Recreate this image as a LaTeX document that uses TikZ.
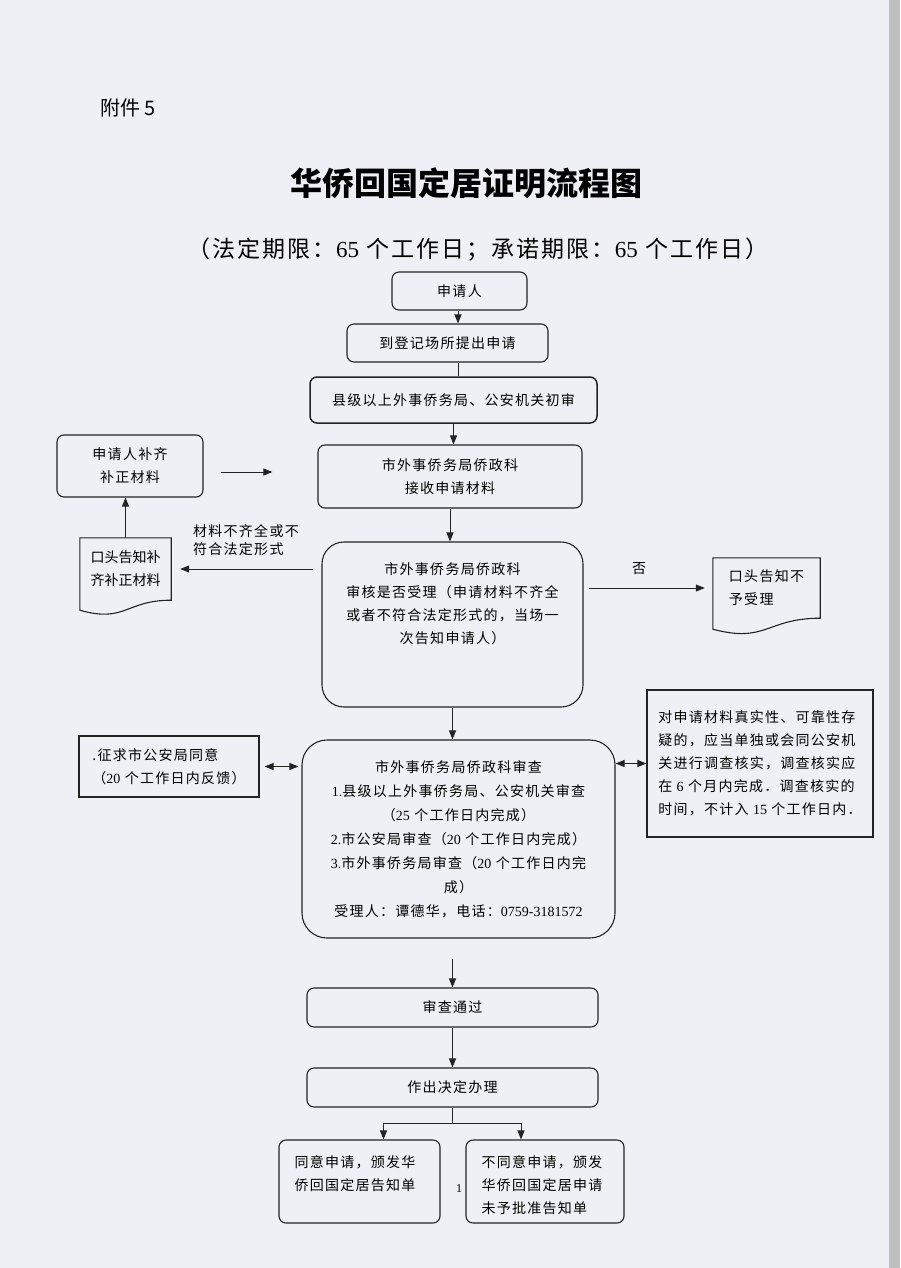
\documentclass[tikz,border=0pt]{standalone}
\usepackage{fontspec}
\setmainfont{Noto Sans CJK SC}[LetterSpace=9]
\newfontfamily\plainfont{Noto Sans CJK SC}
\newfontfamily\latin{Liberation Serif}
\usetikzlibrary{arrows.meta,positioning,calc}

\definecolor{paper}{RGB}{238,240,245}
\definecolor{ink}{RGB}{35,35,35}

% document shape with wavy bottom
\newcommand{\docframe}[2]{%
  \draw[ink, line width=1.1pt] (#1.north west) -- (#1.north east) -- (#1.south east)
    .. controls (#1.south) and ($(#1.south)+(0,{2.3*#2})$) .. ($(#1.south west)+(0,#2)$) -- cycle;}

\begin{document}
\begin{tikzpicture}[x=1pt, y=-1pt, >={Triangle[length=9pt,width=7pt]},
  every node/.style={inner sep=0pt},
  txt/.style={font=\fontsize{14}{23}\selectfont},
  flowbox/.style={txt, draw=ink, line width=1.1pt, rounded corners=7pt, align=center},
  bigbox/.style={flowbox, rounded corners=24pt},
  notebox/.style={txt, draw=ink, line width=1.1pt, align=left},
  link/.style={draw=ink, line width=1pt}]

% paper
\fill[paper] (0,0) rectangle (900,1268);
\fill[black!25] (889,0) rectangle (900,1268);
\useasboundingbox (0,0) rectangle (900,1268);

% Heading
\node[font=\plainfont\fontsize{20}{20}\selectfont, anchor=west] (fujian) at (100,108) {附件 5};
\node[font=\plainfont\fontsize{32}{32}\selectfont\bfseries] (title) at (466,183) {华侨回国定居证明流程图};
\node[font=\fontsize{23}{23}\selectfont] (period) at (478,250)
  {（法定期限：{\latin 65} 个工作日；承诺期限：{\latin 65} 个工作日）};

% Main column
\node[flowbox, minimum width=135, minimum height=38] (shenqing) at (459.5,291) {申请人};
\node[flowbox, minimum width=201, minimum height=38] (dengji) at (447.5,343) {到登记场所提出申请};
\node[flowbox, minimum width=287, minimum height=46, line width=1.5pt] (chushen) at (453.5,400)
  {县级以上外事侨务局、公安机关初审};
\node[flowbox, minimum width=264, minimum height=63] (jieshou) at (450,476.5)
  {市外事侨务局侨政科\\接收申请材料};
\node[bigbox, rounded corners=22pt, minimum width=261, minimum height=165] (shenhe) at (452.5,624.5) {};
\node[txt, align=center, below=21pt of shenhe.north] (shenhe-txt)
  {市外事侨务局侨政科\\审核是否受理（申请材料不齐全\\或者不符合法定形式的，当场一\\次告知申请人）};
\node[bigbox, font=\fontsize{14}{24}\selectfont, rounded corners=25pt, minimum width=313, minimum height=198]
  (shencha) at (458.5,839)
  {市外事侨务局侨政科审查\\
   {\latin 1.}县级以上外事侨务局、公安机关审查\\
   （{\latin 25} 个工作日内完成）\\
   {\latin 2.}市公安局审查（{\latin 20} 个工作日内完成）\\
   {\latin 3.}市外事侨务局审查（{\latin 20} 个工作日内完\\
   成）\\
   受理人：谭德华，电话：{\latin 0759-3181572}};
\node[flowbox, minimum width=291, minimum height=39] (tongguo) at (452.5,1007.5) {审查通过};
\node[flowbox, minimum width=291, minimum height=39] (jueding) at (452.5,1087.5) {作出决定办理};
\node[flowbox, minimum width=161, minimum height=83] (tongyi) at (359.5,1181.5) {};
\node[txt, align=left, below right=16pt and 16pt of tongyi.north west] (tongyi-txt)
  {同意申请，颁发华\\侨回国定居告知单};
\node[flowbox, minimum width=158, minimum height=83] (butongyi) at (545,1181.5) {};
\node[txt, align=left, below right=16pt and 16pt of butongyi.north west] (butongyi-txt)
  {不同意申请，颁发\\华侨回国定居申请\\未予批准告知单};

% Side boxes
\node[flowbox, minimum width=146, minimum height=62] (buqi) at (130,466) {申请人补齐\\补正材料};
\node[font=\plainfont\fontsize{14}{23}\selectfont, align=center, minimum width=91, minimum height=62]
  (buzheng) at (125.5,569) {口头告知补\\齐补正材料};
\docframe{buzheng}{10}
\node[txt, align=left, minimum width=107, minimum height=60] (buyu) at (766.5,588)
  {口头告知不\\予受理};
\docframe{buyu}{11}
\node[notebox, minimum width=180, minimum height=61] (zhengqiu) at (169,766.5)
  {.征求市公安局同意\\（{\latin 20} 个工作日内反馈）};
\node[notebox, minimum width=226, minimum height=147] (hecha) at (760,763.5)
  {对申请材料真实性、可靠性存\\疑的，应当单独或会同公安机\\关进行调查核实，调查核实应\\
   在 {\latin 6} 个月内完成．调查核实的\\时间，不计入 {\latin 15} 个工作日内．};

\node[font=\latin\fontsize{12}{12}\selectfont] (pageno) at (459,1189) {1};

% Arrows
\coordinate (axis) at (458,0);
\draw[link,->] (shenqing.south -| axis) -- (dengji.north -| axis);
\draw[link] (dengji.south -| axis) -- (chushen.north -| axis);
\foreach \a/\b in {chushen/jieshou, jieshou/shenhe, shenhe/shencha, tongguo/jueding} {
  \draw[link,->] (\a.south) -- (\a.south |- \b.north);
}
\draw[link,->, shorten <=20pt] (tongguo.north |- shencha.south) -- (tongguo.north);
\coordinate (fork) at ($(jueding.south)+(0,16)$);
\draw[link] (jueding.south) -- (fork);
\draw[link,->] (fork) -| ([xshift=24pt]tongyi.north);
\draw[link,->] (fork) -| ([xshift=-24pt]butongyi.north);

\draw[link,->, shorten <=8pt, shorten >=9pt] (shenhe.west |- buzheng.east) -- (buzheng.east);
\node[font=\fontsize{14}{18}\selectfont, align=left, anchor=south west] (buqi-why) at (193,556)
  {材料不齐全或不\\符合法定形式};
\draw[link,->] (buzheng.north) -- (buzheng.north |- buqi.south);
\draw[link,->, shorten <=17pt, shorten >=45pt] ([yshift=-6pt]buqi.east) -- ([yshift=-6pt]buqi.east -| jieshou.west);
\draw[link,->, shorten <=5pt, shorten >=8pt] (shenhe.east |- buyu.west) -- (buyu.west)
  node[txt, pos=.43, above=13pt] (fou) {否};

\draw[link,<->, shorten <=3pt, shorten >=5pt] (shencha.west |- zhengqiu.east) -- (zhengqiu.east);
\draw[link,<->] (shencha.east |- hecha.west) -- (hecha.west);
\end{tikzpicture}
\end{document}
